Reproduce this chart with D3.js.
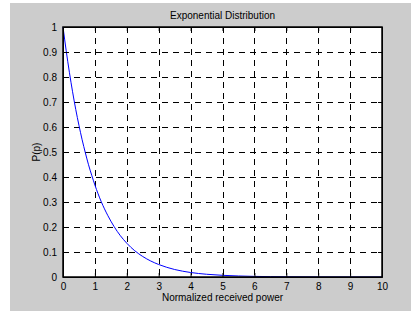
<!DOCTYPE html>
<html><head><meta charset="utf-8">
<script src="https://cdn.jsdelivr.net/npm/d3@7"></script>
<style>body{margin:0;background:#fff}svg{display:block}text{font-family:"Liberation Sans",Arial,sans-serif}</style>
</head><body><svg id="c" width="411" height="311"></svg>
<script>
const title = "Exponential Distribution";
const xLabel = "Normalized received power";
const yLabel = "P(p)";
const xTicks = [0,1,2,3,4,5,6,7,8,9,10];
const yTicks = [0,0.1,0.2,0.3,0.4,0.5,0.6,0.7,0.8,0.9,1];
const xValues = [0,0.1,0.2,0.3,0.4,0.5,0.6,0.7,0.8,0.9,1,1.2,1.4,1.6,1.8,2,2.25,2.5,2.75,3,3.5,4,4.5,5,5.5,6,6.5,7,8,9,10];
const yValues = [1,0.905,0.819,0.741,0.670,0.607,0.549,0.497,0.449,0.407,0.368,0.301,0.247,0.202,0.165,0.135,0.105,0.082,0.064,0.050,0.030,0.018,0.011,0.0067,0.0041,0.0025,0.0015,0.0009,0.0003,0.0001,0.00005];

const svg = d3.select("#c");
svg.append("rect").attr("x",10).attr("y",3).attr("width",401).attr("height",308).attr("fill","#cccccc");
const L=63,R=382,T=27,B=277;
const x = d3.scaleLinear().domain([0,10]).range([L,R]);
const y = d3.scaleLinear().domain([0,1]).range([B,T]);
svg.append("rect").attr("x",L).attr("y",T).attr("width",R-L).attr("height",B-T).attr("fill","#fff");
const g = svg.append("g");
// grid
g.selectAll(".vg").data(xTicks.slice(1,-1)).join("line")
 .attr("x1",d=>Math.round(x(d))+0.5).attr("x2",d=>Math.round(x(d))+0.5).attr("y1",T).attr("y2",B)
 .attr("stroke","#000").attr("stroke-width",1).attr("stroke-dasharray","6,5");
g.selectAll(".hg").data(yTicks.slice(1,-1)).join("line")
 .attr("y1",d=>Math.round(y(d))+0.5).attr("y2",d=>Math.round(y(d))+0.5).attr("x1",L).attr("x2",R)
 .attr("stroke","#000").attr("stroke-width",1).attr("stroke-dasharray","6,5");
// curve
const line = d3.line().x((d,i)=>x(xValues[i])).y(d=>y(d)).curve(d3.curveMonotoneX);
g.append("path").datum(yValues).attr("d",line).attr("fill","none").attr("stroke","#0000ff").attr("stroke-width",1);
// axes
const xb = d3.axisBottom(x).tickValues(xTicks).tickFormat(d3.format("d")).tickSizeInner(-4).tickSizeOuter(0).tickPadding(6);
const xt = d3.axisTop(x).tickValues(xTicks).tickFormat("").tickSizeInner(-4).tickSizeOuter(0);
const yl = d3.axisLeft(y).tickValues(yTicks).tickFormat(d=>d===0?"0":d===1?"1":d3.format(".1f")(d)).tickSizeInner(-4).tickSizeOuter(0).tickPadding(6);
const yr = d3.axisRight(y).tickValues(yTicks).tickFormat("").tickSizeInner(-4).tickSizeOuter(0);
function style(sel){sel.select(".domain").attr("stroke","#000");sel.selectAll("line").attr("stroke","#000");sel.selectAll("text").attr("font-size","10px").attr("fill","#000").attr("font-family","'Liberation Sans',Arial,sans-serif");}
style(svg.append("g").attr("transform",`translate(0,${B})`).call(xb));
style(svg.append("g").attr("transform",`translate(0,${T})`).call(xt));
style(svg.append("g").attr("transform",`translate(${L},0)`).call(yl));
style(svg.append("g").attr("transform",`translate(${R},0)`).call(yr));
svg.append("rect").attr("x",L).attr("y",T).attr("width",R-L).attr("height",B-T).attr("fill","none").attr("stroke","#000").attr("stroke-width",1.5);
svg.append("text").attr("x",(L+R)/2).attr("y",19).attr("text-anchor","middle").attr("font-size","10px").text(title);
svg.append("text").attr("x",(L+R)/2).attr("y",301).attr("text-anchor","middle").attr("font-size","10px").text(xLabel);
svg.append("text").attr("transform",`translate(40,${(T+B)/2}) rotate(-90)`).attr("text-anchor","middle").attr("font-size","10px").text(yLabel);
</script></body></html>
